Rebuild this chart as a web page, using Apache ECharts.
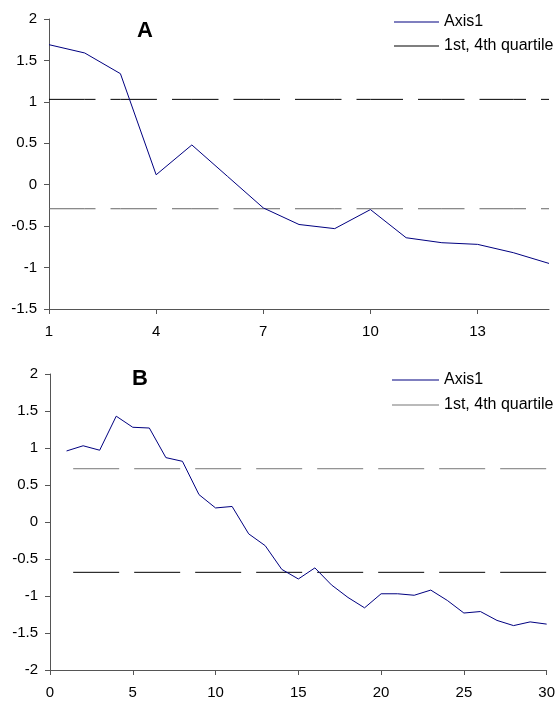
<!DOCTYPE html>
<html>
<head>
<meta charset="utf-8">
<script src="https://cdn.jsdelivr.net/npm/echarts@6/dist/echarts.min.js"></script>
<style>
html,body{margin:0;padding:0;background:#fff;}
#c{width:558px;height:702px;}
</style>
</head>
<body>
<div id="c"></div>
<script>
// ---- Data ----
const catsA = ['1','2','3','4','5','6','7','8','9','10','11','12','13','14','15'];
const axis1A = [1.69, 1.59, 1.34, 0.12, 0.48, 0.10, -0.28, -0.48, -0.53, -0.30, -0.64, -0.70, -0.72, -0.82, -0.95];
const quartA = [1.03, -0.29];

const xB = [1,2,3,4,5,6,7,8,9,10,11,12,13,14,15,16,17,18,19,20,21,22,23,24,25,26,27,28,29,30];
const axis1B = [0.96, 1.03, 0.97, 1.43, 1.28, 1.27, 0.87, 0.82, 0.37, 0.19, 0.21, -0.16, -0.32, -0.64, -0.77, -0.62, -0.85, -1.02, -1.16, -0.97, -0.97, -0.99, -0.92, -1.06, -1.23, -1.21, -1.33, -1.40, -1.35, -1.38];
const quartB = [0.72, -0.68];
const quartBX = [1.4, 30];

const FONT = 'Liberation Sans';
const navy = '#000080';

const chart = echarts.init(document.getElementById('c'), null, {renderer:'canvas'});

const labelStyle = {color:'#000', fontFamily:FONT, fontSize:15};
const axisLineStyle = {onZero:false, lineStyle:{color:'#555', width:1}};
const legendText = {color:'#000', fontFamily:FONT, fontSize:16, lineHeight:16};

const option = {
  animation:false,
  backgroundColor:'#fff',
  grid:[
    {left:49, top:19, width:500, height:290},
    {left:50, top:374, width:499, height:296}
  ],
  xAxis:[
    {gridIndex:0, type:'category', data:catsA, boundaryGap:false,
     axisLine:Object.assign({show:true}, axisLineStyle),
     axisTick:{show:true, interval:2, length:5, inside:false, lineStyle:{color:'#555'}},
     axisLabel:Object.assign({interval:2, margin:15}, labelStyle),
     splitLine:{show:false}},
    {gridIndex:1, type:'value', min:0, max:30, interval:5,
     axisLine:Object.assign({show:true}, axisLineStyle),
     axisTick:{show:true, length:5, lineStyle:{color:'#555'}},
     axisLabel:Object.assign({margin:15}, labelStyle),
     splitLine:{show:false}}
  ],
  yAxis:[
    {gridIndex:0, type:'value', min:-1.5, max:2, interval:0.5,
     axisLine:Object.assign({show:true}, axisLineStyle),
     axisTick:{show:true, length:5, lineStyle:{color:'#555'}},
     axisLabel:Object.assign({margin:12}, labelStyle),
     splitLine:{show:false}},
    {gridIndex:1, type:'value', min:-2, max:2, interval:0.5,
     axisLine:Object.assign({show:true}, axisLineStyle),
     axisTick:{show:true, length:5, lineStyle:{color:'#555'}},
     axisLabel:Object.assign({margin:12}, labelStyle),
     splitLine:{show:false}}
  ],
  legend:[
    {orient:'vertical', left:394, top:14, padding:0, itemWidth:45, itemHeight:1, itemGap:8,
     icon:'rect',
     data:['Axis1','1st, 4th quartile'],
     selectedMode:false,
     textStyle:legendText},
    {orient:'vertical', left:392, top:372, padding:0, itemWidth:47, itemHeight:1, itemGap:9,
     icon:'rect',
     data:['B:Axis1','B:1st, 4th quartile'],
     formatter: n => n.replace(/^B:/, ''),
     selectedMode:false,
     textStyle:legendText}
  ],
  series:[
    {name:'1st, 4th quartile', type:'line', xAxisIndex:0, yAxisIndex:0,
     data:catsA.map(() => quartA[0]), symbol:'none',
     lineStyle:{color:'#000', width:1, type:[46.5,15]}, itemStyle:{color:'#000'}},
    {name:'A:q4', type:'line', xAxisIndex:0, yAxisIndex:0,
     data:catsA.map(() => quartA[1]), symbol:'none',
     lineStyle:{color:'#666', width:1, type:[46.5,15]}, itemStyle:{color:'#666'}},
    {name:'Axis1', type:'line', xAxisIndex:0, yAxisIndex:0,
     data:axis1A, symbol:'none',
     lineStyle:{color:navy, width:1}, itemStyle:{color:navy}},

    {name:'B:1st, 4th quartile', type:'line', xAxisIndex:1, yAxisIndex:1,
     data:quartBX.map(x => [x, quartB[0]]), symbol:'none',
     lineStyle:{color:'#777', width:1, type:[46,15]}, itemStyle:{color:'#777'}},
    {name:'B:q4', type:'line', xAxisIndex:1, yAxisIndex:1,
     data:quartBX.map(x => [x, quartB[1]]), symbol:'none',
     lineStyle:{color:'#000', width:1, type:[46,15]}, itemStyle:{color:'#000'}},
    {name:'B:Axis1', type:'line', xAxisIndex:1, yAxisIndex:1,
     data:xB.map((x,i) => [x, axis1B[i]]), symbol:'none',
     lineStyle:{color:navy, width:1}, itemStyle:{color:navy}}
  ],
  graphic:[
    {type:'text', x:137, y:31, style:{text:'A', font:'bold 22px "Liberation Sans"', fill:'#000', verticalAlign:'middle', align:'left'}},
    {type:'text', x:132, y:379, style:{text:'B', font:'bold 22px "Liberation Sans"', fill:'#000', verticalAlign:'middle', align:'left'}}
  ]
};
chart.setOption(option);
</script>
</body>
</html>
